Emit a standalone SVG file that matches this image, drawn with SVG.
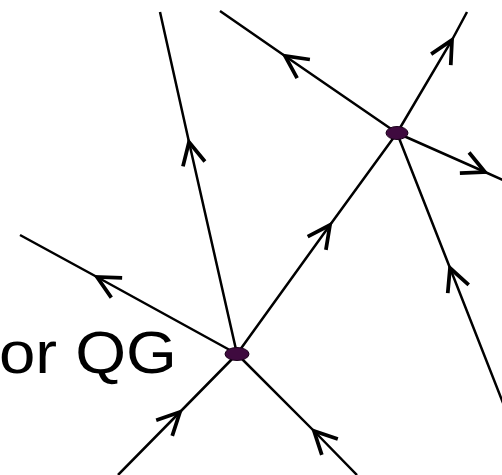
<svg xmlns="http://www.w3.org/2000/svg" width="502" height="475" viewBox="0 0 502 475">
<style>
.ln{fill:none;stroke:#000;stroke-width:2.5;marker-mid:url(#ah)}
.vx{fill:#3f0a3f;stroke:#1a001a;stroke-width:1}
.lbl{font-family:"Liberation Sans",Arial,sans-serif;font-size:60px;fill:#000}
</style>
<defs>
<marker id="ah" markerUnits="userSpaceOnUse" markerWidth="30" markerHeight="30" refX="0" refY="0" viewBox="-16 -10 20 20" orient="auto" overflow="visible">
<path d="M-15,-7.5 L0,0 L-15,7.5" fill="none" stroke="#000" stroke-width="2.5"/>
</marker>
</defs>
<rect width="502" height="475" fill="#fff"/>
<text class="lbl" x="-1" y="373" transform="scale(1.09,1)">or QG</text>
<g id="connectors">
<path class="ln" d="M237,354 L189,142 L160,12"/>
<path class="ln" d="M237,354 L330,225 L397,133"/>
<path class="ln" d="M237,354 L97,277 L20,235"/>
<path class="ln" d="M118,475 L180,412 L237,354"/>
<path class="ln" d="M357,475 L314,431 L237,354"/>
<path class="ln" d="M397,133 L285,56 L220,11"/>
<path class="ln" d="M397,133 L452,40 L467,12"/>
<path class="ln" d="M397,133 L485,172 L505,181"/>
<path class="ln" d="M505,408 L450,268 L397,133"/>
</g>
<g id="vertexA"><ellipse class="vx" cx="237" cy="354" rx="12" ry="6.5"/></g>
<g id="vertexB"><ellipse class="vx" cx="397" cy="133" rx="11" ry="6.5"/></g>
</svg>
